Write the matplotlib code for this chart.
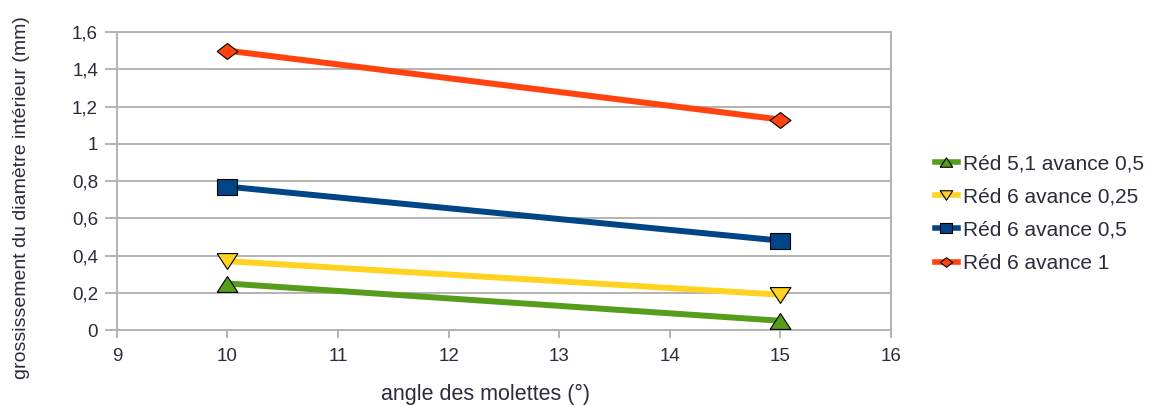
import matplotlib
matplotlib.use("Agg")
import matplotlib.pyplot as plt
from matplotlib.ticker import FuncFormatter

plt.rcParams['font.family'] = ['Liberation Sans', 'DejaVu Sans']

angles = [10, 15]
series_labels = ["Réd 5,1 avance 0,5", "Réd 6 avance 0,25", "Réd 6 avance 0,5", "Réd 6 avance 1"]
red51_av05 = [0.25, 0.05]
red6_av025 = [0.37, 0.19]
red6_av05 = [0.77, 0.48]
red6_av1 = [1.50, 1.13]

colors = ["#579d1c", "#ffd320", "#004586", "#ff420e"]
values = [red51_av05, red6_av025, red6_av05, red6_av1]

# wide marker shapes (width a bit larger than height)
k = 0.76
tri_up = [(-1, -k), (1, -k), (0, k), (-1, -k)]
tri_down = [(-1, k), (1, k), (0, -k), (-1, k)]
rect = [(-1, -k), (1, -k), (1, k), (-1, k), (-1, -k)]
diamond = [(-1, 0), (0, k), (1, 0), (0, -k), (-1, 0)]
markers = [tri_up, tri_down, rect, diamond]
msizes = [15, 15, 15, 15]

fig = plt.figure(figsize=(11.57, 4.05), dpi=100)
ax = fig.add_axes([0.101, 0.185, 0.669, 0.736])

grid_c = "#b3b3b3"
text_c = "#2b2b3b"

for vals, c, m, ms, lab in zip(values, colors, markers, msizes, series_labels):
    ax.plot(angles, vals, color=c, lw=4.3, marker=m, markersize=ms,
            markerfacecolor=c, markeredgecolor="black", markeredgewidth=0.8,
            label=lab, zorder=3, solid_capstyle="butt")

ax.set_xlim(9, 16)
ax.set_ylim(0, 1.6)
ax.set_xticks(range(9, 17))
ax.set_yticks([0, 0.2, 0.4, 0.6, 0.8, 1.0, 1.2, 1.4, 1.6])
ax.yaxis.set_major_formatter(FuncFormatter(lambda v, p: ("%g" % round(v, 1)).replace(".", ",")))
ax.yaxis.grid(True, color=grid_c, lw=1.4)
ax.set_axisbelow(True)
for s in ax.spines.values():
    s.set_color(grid_c)
    s.set_linewidth(1.4)
ax.tick_params(axis="both", colors=grid_c, width=1.4, labelsize=13.5, labelcolor=text_c)
ax.tick_params(axis="x", length=6, pad=7)
ax.tick_params(axis="y", length=8.5, pad=5)

ax.set_xlabel("angle des molettes (°)", fontsize=15.5, color=text_c)
ax.xaxis.set_label_coords(0.476, -0.18)
ax.set_ylabel("grossissement du diamètre intérieur (mm)", fontsize=14, color=text_c)
ax.yaxis.set_label_coords(-0.112, 0.445)

leg_handles = []
for c, m in zip(colors, markers):
    h = plt.Line2D([], [], color=c, lw=4, marker=m, markersize=9,
                   markerfacecolor=c, markeredgecolor="black", markeredgewidth=0.8)
    leg_handles.append(h)
fig.legend(leg_handles, series_labels, loc="upper left", bbox_to_anchor=(0.808, 0.619),
           frameon=False, fontsize=15, handlelength=1.1, handletextpad=0.25,
           labelspacing=0.68, borderpad=0, borderaxespad=0, labelcolor=text_c)

fig.savefig("out.png", dpi=100)
